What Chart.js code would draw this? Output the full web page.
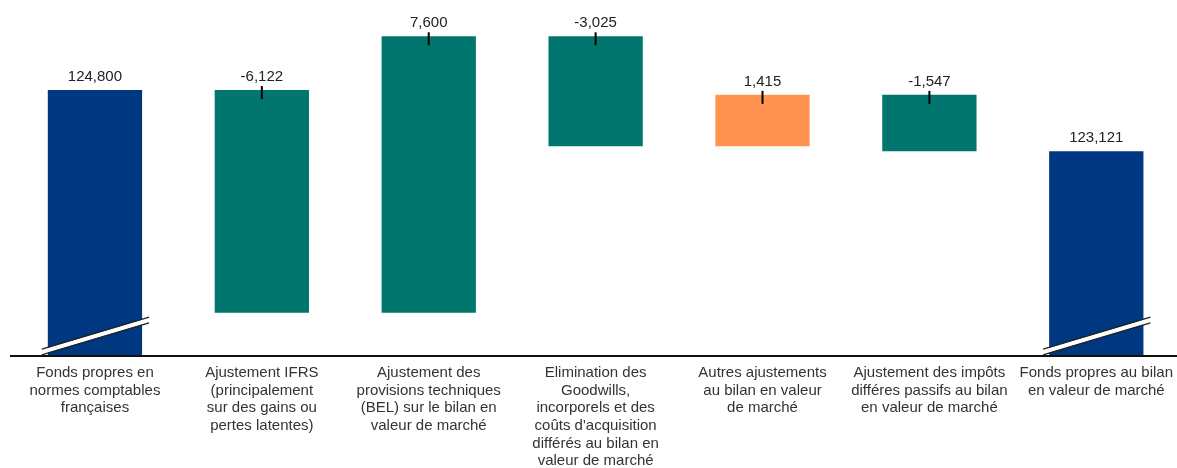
<!DOCTYPE html>
<html>
<head>
<meta charset="utf-8">
<script src="https://cdn.jsdelivr.net/npm/chart.js@4.4.1/dist/chart.umd.min.js"></script>
<style>
  html, body { margin: 0; padding: 0; background: #fff; overflow: hidden; }
  #wrap { width: 1182px; height: 468px; }
</style>
</head>
<body>
<div id="wrap"><canvas id="waterfall"></canvas></div>
<script>
const categories = [
    ['Fonds propres en', 'normes comptables', 'françaises'],
    ['Ajustement IFRS', '(principalement', 'sur des gains ou', 'pertes latentes)'],
    ['Ajustement des', 'provisions techniques', '(BEL) sur le bilan en', 'valeur de marché'],
    ['Elimination des', 'Goodwills,', 'incorporels et des', 'coûts d\'acquisition', 'différés au bilan en', 'valeur de marché'],
    ['Autres ajustements', 'au bilan en valeur', 'de marché'],
    ['Ajustement des impôts', 'différes passifs au bilan', 'en valeur de marché'],
    ['Fonds propres au bilan', 'en valeur de marché']
];
const values = [124800, -6122, 7600, -3025, 1415, -1547, 123121];
const isTotal = [true, false, false, false, false, false, true];
const barColors = ['#003781', '#00766E', '#00766E', '#00766E', '#FF934F', '#00766E', '#003781'];

const yMin = 117520;
const yMax = 127000;

// floating bars: totals from the (broken) axis, deltas from the running sum
function buildRanges() {
    let running = 0;
    return values.map((v, i) => {
        if (isTotal[i]) {
            running = v;
            return [yMin, v];
        }
        const start = running;
        running += v;
        return [start, running];
    });
}

const fmt = (v) => v.toLocaleString('en-US');

const decorations = {
    id: 'decorations',
    afterDatasetsDraw(chart) {
        const ctx = chart.ctx;
        const meta = chart.getDatasetMeta(0);
        const area = chart.chartArea;
        ctx.save();

        // axis line
        ctx.strokeStyle = '#111';
        ctx.lineWidth = 2;
        ctx.beginPath();
        ctx.moveTo(10, area.bottom + 1);
        ctx.lineTo(chart.width, area.bottom + 1);
        ctx.stroke();

        meta.data.forEach((bar, i) => {
            const top = Math.min(bar.y, bar.base);
            const half = bar.width / 2;

            if (isTotal[i]) {
                // axis break
                const x1 = bar.x - half - 6, y1 = bar.base - 3;
                const x2 = bar.x + half + 7, y2 = bar.base - 35;
                ctx.lineCap = 'butt';
                ctx.strokeStyle = '#fff';
                ctx.lineWidth = 4.5;
                ctx.beginPath();
                ctx.moveTo(x1, y1);
                ctx.lineTo(x2, y2);
                ctx.stroke();
                ctx.strokeStyle = '#222';
                ctx.lineWidth = 1.3;
                [-2.8, 2.8].forEach((d) => {
                    ctx.beginPath();
                    ctx.moveTo(x1, y1 + d);
                    ctx.lineTo(x2, y2 + d);
                    ctx.stroke();
                });
            } else {
                ctx.strokeStyle = '#000';
                ctx.lineWidth = 2;
                ctx.beginPath();
                ctx.moveTo(bar.x, top - 4);
                ctx.lineTo(bar.x, top + 9);
                ctx.stroke();
            }

            ctx.fillStyle = '#222';
            ctx.font = '15px "Liberation Sans", Arial, sans-serif';
            ctx.textAlign = 'center';
            ctx.textBaseline = 'middle';
            ctx.fillText(fmt(values[i]), bar.x, top - 13);
        });
        ctx.restore();
    }
};

new Chart(document.getElementById('waterfall'), {
    type: 'bar',
    data: {
        labels: categories,
        datasets: [{
            data: buildRanges(),
            backgroundColor: barColors,
            borderWidth: 0,
            barPercentage: 0.565,
            categoryPercentage: 1
        }]
    },
    options: {
        responsive: true,
        maintainAspectRatio: false,
        animation: false,
        layout: {
            padding: { left: 11.5, right: 0, top: 10, bottom: 0 }
        },
        scales: {
            x: {
                grid: { display: false, drawTicks: false },
                border: { display: false },
                ticks: {
                    color: '#333',
                    padding: 9,
                    maxRotation: 0,
                    autoSkip: false,
                    font: { family: '"Liberation Sans", Arial, sans-serif', size: 15, lineHeight: 1.18 }
                },
                afterFit(scale) {
                    scale.height = 113;
                }
            },
            y: {
                display: false,
                min: yMin,
                max: yMax
            }
        },
        plugins: {
            legend: { display: false },
            tooltip: { enabled: false }
        }
    },
    plugins: [decorations]
});
</script>
</body>
</html>
